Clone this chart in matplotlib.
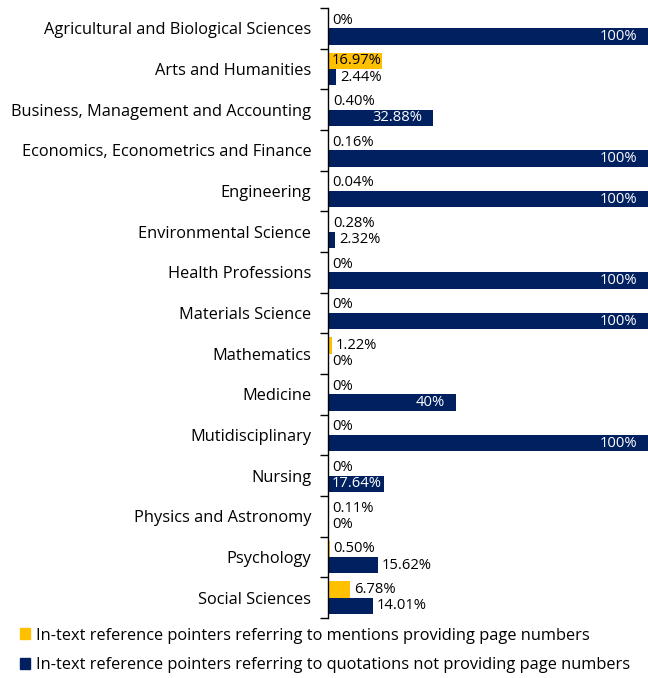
import matplotlib.pyplot as plt
import numpy as np
from matplotlib.transforms import offset_copy

plt.rcParams['font.family'] = ['Open Sans', 'DejaVu Sans']

categories = ['Agricultural and Biological Sciences', 'Arts and Humanities',
              'Business, Management and Accounting', 'Economics, Econometrics and Finance',
              'Engineering', 'Environmental Science', 'Health Professions',
              'Materials Science', 'Mathematics', 'Medicine', 'Mutidisciplinary',
              'Nursing', 'Physics and Astronomy', 'Psychology', 'Social Sciences']
mentions = [0, 16.97, 0.40, 0.16, 0.04, 0.28, 0, 0, 1.22, 0, 0, 0, 0.11, 0.50, 6.78]
quotations = [100, 2.44, 32.88, 100, 100, 2.32, 100, 100, 0, 40, 100, 17.64, 0, 15.62, 14.01]
mention_labels = ['0%', '16.97%', '0.40%', '0.16%', '0.04%', '0.28%', '0%', '0%',
                  '1.22%', '0%', '0%', '0%', '0.11%', '0.50%', '6.78%']
quote_labels = ['100%', '2.44%', '32.88%', '100%', '100%', '2.32%', '100%', '100%',
                '0%', '40%', '100%', '17.64%', '0%', '15.62%', '14.01%']

yellow = '#FFC000'
navy = '#002060'

fig = plt.figure(figsize=(6.48, 6.78), dpi=100)
ax = fig.add_axes([328/648, 1-618/678, 320/648, 610/678])

y = np.arange(len(categories))
h = 0.4
ax.barh(y - h/2, mentions, height=h, color=yellow)
ax.barh(y + h/2, quotations, height=h, color=navy)

ax.set_xlim(0, 100)
ax.set_ylim(len(categories) - 0.5, -0.5)

fs = 10.6
out_tr = offset_copy(ax.transData, fig=fig, x=4, y=0, units='dots')
in_tr = offset_copy(ax.transData, fig=fig, x=-11, y=0, units='dots')
for i in range(len(categories)):
    # mentions (yellow)
    if mentions[i] > 10:
        ax.text(0, y[i] - h/2, mention_labels[i], transform=out_tr,
                ha='left', va='center', fontsize=fs, color='black')
    else:
        ax.text(mentions[i], y[i] - h/2, mention_labels[i], transform=out_tr,
                ha='left', va='center', fontsize=fs, color='black')
    # quotations (navy)
    if quotations[i] > 25:
        ax.text(quotations[i], y[i] + h/2, quote_labels[i], transform=in_tr,
                ha='right', va='center', fontsize=fs, color='white')
    elif quotations[i] > 17:
        ax.text(0, y[i] + h/2, quote_labels[i], transform=out_tr,
                ha='left', va='center', fontsize=fs, color='white')
    else:
        ax.text(quotations[i], y[i] + h/2, quote_labels[i], transform=out_tr,
                ha='left', va='center', fontsize=fs, color='black')

ax.set_yticks(y)
ax.set_yticklabels(categories, fontsize=11.8)
ax.tick_params(axis='y', which='major', length=0, pad=12)
ax.set_yticks(np.arange(len(categories) + 1) - 0.5, minor=True)
ax.tick_params(axis='y', which='minor', length=6, width=1)
ax.set_xticks([])
for s in ['top', 'right', 'bottom']:
    ax.spines[s].set_visible(False)
ax.spines['left'].set_linewidth(1)

handles = [plt.Rectangle((0, 0), 1, 1, color=yellow), plt.Rectangle((0, 0), 1, 1, color=navy)]
fig.legend(handles, ['In-text reference pointers referring to mentions providing page numbers',
                     'In-text reference pointers referring to quotations not providing page numbers'],
           loc='upper left', bbox_to_anchor=(0.02, 1-621/678), frameon=False, fontsize=11.8,
           handlelength=0.65, handleheight=0.65, handletextpad=0.35, labelspacing=0.85,
           borderaxespad=0)

fig.savefig('out.png', dpi=100)
